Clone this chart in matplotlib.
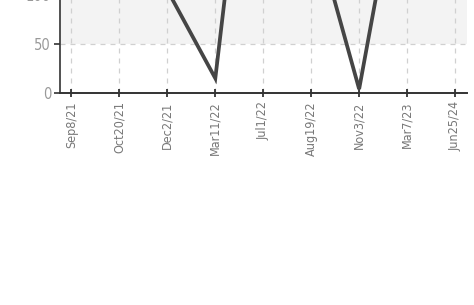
import matplotlib
matplotlib.use("Agg")
import matplotlib.pyplot as plt

categories = ["Sep8/21", "Oct20/21", "Dec2/21", "Mar11/22", "Jul1/22",
              "Aug19/22", "Nov3/22", "Mar7/23", "Jun25/24"]
values = [230, 260, 105, 15, 430, 180, 4, 270, 300]
y_ticks = [0, 50, 100, 150, 200, 250, 300, 350, 400, 450]

plt.rcParams["font.family"] = ["DejaVu Sans"]
plt.rcParams["font.stretch"] = "condensed"

W, H = 474, 305
fig = plt.figure(figsize=(W / 100, H / 100), dpi=100)
ymax = 450
px_per_unit = 0.98
left_px, right_px, bottom_px = 59.5, 467, 93
ax_h_px = ymax * px_per_unit
ax = fig.add_axes([left_px / W, (H - bottom_px) / H,
                   (right_px - left_px) / W, ax_h_px / H])

x = list(range(len(categories)))
for i, t in enumerate(y_ticks[:-1]):
    if i % 2 == 1:
        ax.axhspan(t, y_ticks[i + 1], color="#f3f3f3", zorder=0, lw=0)

ax.plot(x, values, color="#454545", lw=2.7, zorder=3, solid_joinstyle="miter")

ax.set_xlim(-0.25, len(categories) - 0.75)
ax.set_ylim(0, ymax)
ax.set_xticks(x)
ax.set_xticklabels(categories, rotation=90, fontsize=9, color="#777777")
ax.set_yticks(y_ticks)
ax.set_yticklabels([str(t) for t in y_ticks], fontsize=10.5, color="#999999")

ax.grid(True, color="#d0d0d0", linestyle=(0, (4, 4)), lw=0.9, zorder=1)
ax.set_axisbelow(True)
for s in ["top", "right"]:
    ax.spines[s].set_visible(False)
ax.spines["left"].set_color("#333333")
ax.spines["bottom"].set_color("#333333")
ax.spines["left"].set_linewidth(1.2)
ax.spines["bottom"].set_linewidth(1.4)
ax.tick_params(axis="x", direction="inout", length=6, width=1.2, color="#222222", pad=3)
ax.tick_params(axis="y", direction="out", length=4, width=1.2, color="#333333", pad=2)

fig.savefig("out.png", dpi=100, facecolor="white")
